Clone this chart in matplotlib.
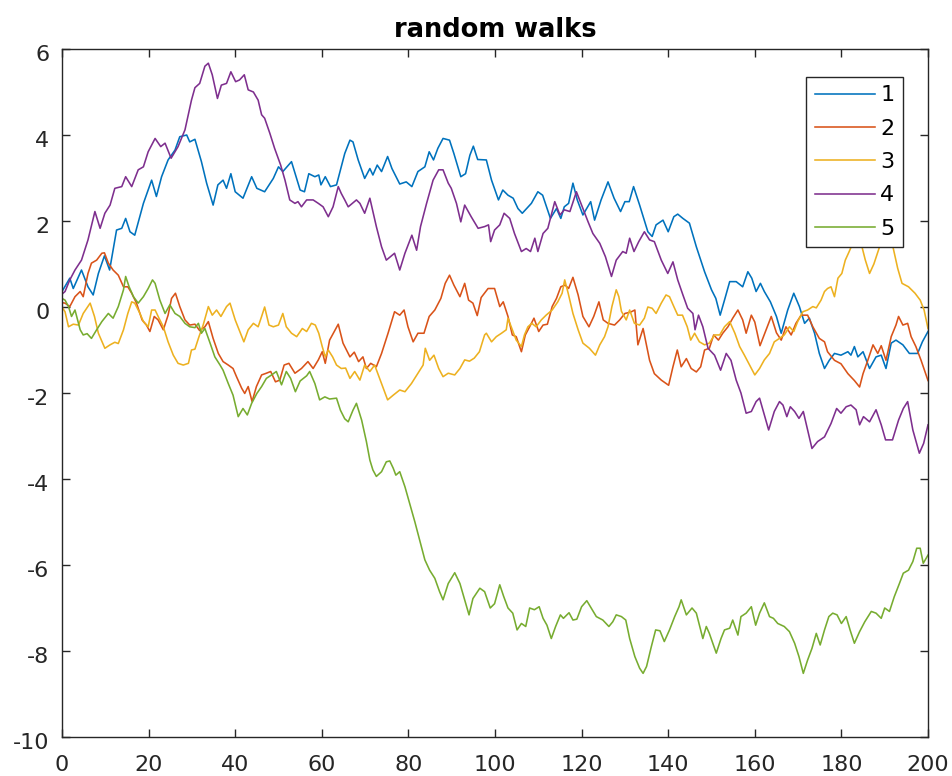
import matplotlib
matplotlib.use("Agg")
import matplotlib.pyplot as plt
from matplotlib.transforms import ScaledTranslation

plt.rcParams['font.family'] = ['DejaVu Sans']
plt.rcParams['axes.unicode_minus'] = False

# ---- data ----
x1 = [0,1.8,2.6,4.5,6,7.2,8.4,9.8,11,12.6,13.8,14.7,15.7,16.8,18.8,20.7,21.8,23,24.5,26.1,27.2,28.8,29.5,30.7,32.2,33.4,34.9,36,37.2,38,39,40,41.8,43.8,45,46.8,48.8,50,51,53,55,56,57,58.4,59.3,59.8,60.8,62,63.4,64.5,65.3,66.5,67.2,68.4,69.9,71.1,71.8,72.8,73.8,75.2,76.2,78,79.5,80.8,82.2,83.8,84.8,85.8,86.8,88,89.5,90.5,92.1,93.2,94.2,95,96,98,99.2,100.8,101.8,103,104.2,105.3,106.3,108.4,109.9,111,112.8,114.2,115.2,116,117,118,119,120.3,122.1,123,124.5,126.1,127.5,129,130,131,132,133.4,135.3,136.3,137.2,138.8,140,141.3,142.2,143.4,144.9,146.5,148.4,150,151,152,153,154.2,155.7,157.2,158.4,159.3,160.3,161.3,162.2,163.6,165,166.1,167.6,169,170.3,171.5,172.6,173.8,174.9,176.1,177.2,178.4,179.9,181.5,182.2,183,183.8,185,186.5,188,189.2,190.3,191.5,192.6,194.2,195.7,197.6,198.7,200]
y1 = [0.36,0.67,0.43,0.86,0.47,0.28,0.78,1.19,0.86,1.79,1.83,2.06,1.75,1.67,2.41,2.95,2.57,3.03,3.42,3.65,3.96,4.0,3.84,3.9,3.38,2.88,2.37,2.84,2.95,2.76,3.1,2.68,2.53,3.03,2.76,2.68,2.99,3.26,3.15,3.38,2.72,2.68,3.1,3.03,3.07,2.84,3.03,2.8,2.84,3.26,3.57,3.88,3.84,3.42,2.99,3.22,3.07,3.30,3.15,3.5,3.22,2.86,2.91,2.8,3.15,3.26,3.61,3.42,3.69,3.92,3.88,3.57,3.03,3.1,3.53,3.74,3.43,3.42,2.95,2.49,2.72,2.6,2.53,2.29,2.18,2.41,2.68,2.6,2.06,2.29,2.06,2.33,2.41,2.88,2.49,2.14,2.45,2.02,2.49,2.91,2.53,2.22,2.45,2.45,2.8,2.37,1.75,1.64,1.91,2.02,1.75,2.1,2.16,2.06,1.95,1.40,0.82,0.40,0.2,-0.19,0.16,0.59,0.59,0.47,0.82,0.67,0.36,0.55,0.36,0.12,-0.22,-0.61,-0.07,0.32,0.01,-0.38,-0.26,-0.61,-1.08,-1.43,-1.24,-1.08,-1.12,-1.04,-1.12,-0.92,-1.16,-1.04,-1.43,-1.16,-1.12,-1.43,-0.84,-0.77,-0.88,-1.08,-1.08,-0.81,-0.57]

x2 = [0,0.7,1.8,3,4.2,4.9,6,6.8,8,9.2,9.8,10.7,11.8,13,14.2,15.2,16.1,17.2,18.5,19.5,20.3,21.3,22.2,23.4,24.5,25.3,26.2,27.2,28.4,29.5,30.7,31.8,33,33.8,34.9,36.1,37.2,38.4,39.5,40.3,41.5,42.2,43,43.9,44.9,46.1,47.2,48.2,49.3,50.3,51.3,52.4,53.8,55.3,56.8,58,59.2,60.1,60.8,61.8,63,63.8,64.9,66.5,67.5,68.5,69.5,70.3,71.3,72.6,73.8,75.3,76.8,78,79,79.9,81.1,82.2,83.6,84.8,86.1,87.5,88.5,89.5,90.5,91.9,93,93.9,94.9,95.9,96.8,98.4,99.9,101.1,101.9,103,104,104.9,106.1,107,108,109,110.1,111.1,112.1,113.2,114.2,115.2,116.2,117,118,119.2,120.3,121.7,122.8,124,125,126.1,127.6,128.8,130,131.3,132.3,133,134.2,135.7,136.8,138.4,140.1,141.1,142.1,143,144.2,145.3,146.5,147.5,148.4,149.5,150.5,151.6,152.6,153.8,154.9,156.1,157.2,158,159.2,160,161.2,162.6,163.8,165,166.1,167.2,168.4,169.5,170.7,172.2,173.4,174.9,176.1,176.8,178.4,179.9,181.5,183,184.2,185,186.1,187.3,188.4,189.2,190.3,191.5,192.6,193.2,194.2,195.3,196.1,197.2,198.4,200]
y2 = [0.1,0.09,0.01,0.24,0.36,0.24,0.78,1.02,1.09,1.25,1.26,1.02,0.86,0.74,0.47,0.47,0.32,0.09,-0.3,-0.42,-0.57,-0.22,-0.3,-0.53,-0.19,0.2,0.32,0.01,-0.3,-0.42,-0.4,-0.55,-0.46,-0.34,-0.73,-1.08,-1.27,-1.35,-1.43,-1.62,-1.89,-2.01,-1.85,-2.2,-1.85,-1.58,-1.54,-1.5,-1.74,-1.7,-1.35,-1.31,-1.54,-1.43,-1.27,-1.43,-1.23,-1.04,-1.31,-0.77,-0.55,-0.4,-0.84,-1.16,-1.05,-1.27,-1.16,-1.43,-1.31,-1.39,-1.08,-0.61,-0.11,-0.19,-0.07,-0.46,-0.81,-0.61,-0.61,-0.22,-0.07,0.2,0.55,0.74,0.51,0.24,0.55,0.16,0.09,-0.2,0.22,0.43,0.43,0.01,0.12,-0.22,-0.65,-0.69,-1.04,-0.65,-0.46,-0.26,-0.57,-0.42,-0.4,0.01,0.2,0.47,0.51,0.43,0.69,0.28,-0.22,-0.46,-0.22,0.12,-0.3,-0.38,-0.42,-0.3,-0.15,-0.12,-0.07,-0.88,-0.5,-1.24,-1.55,-1.7,-1.82,-1.39,-1.0,-1.39,-1.2,-1.43,-1.51,-1.39,-1.0,-0.96,-0.65,-0.77,-0.61,-0.46,-0.26,-0.07,-0.3,-0.61,-0.19,-0.35,-0.9,-0.53,-0.22,-0.6,-0.77,-0.46,-0.65,-0.38,-0.19,-0.19,-0.46,-0.73,-0.81,-1.04,-1.24,-1.32,-1.55,-1.71,-1.86,-1.55,-1.24,-0.88,-1.08,-0.9,-1.24,-0.69,-0.42,-0.22,-0.42,-0.38,-0.69,-0.92,-1.24,-1.71]

x3 = [0,0.7,1.5,2.6,3.8,4.9,6.5,7.5,8.4,9.9,11.1,12.2,13,14.2,15.2,16.1,16.8,18,18.8,19.9,20.7,21.5,22.4,23.4,24.5,25.7,26.8,28,29.2,29.9,30.7,31.6,32.6,33.8,34.7,35.7,36.7,38,38.8,40,40.9,42,43,44.2,45.3,46.1,46.8,47.8,48.8,50,51,51.8,53,54.2,55.5,56.5,57.6,58.5,59.3,60.1,60.8,61.5,62.5,63.4,64.5,65.5,66.5,67.6,68.8,69.9,71.1,72.2,73.8,75.2,76.5,78,79.2,80.7,82.2,83.4,83.9,84.9,85.9,87,88,89.2,90.7,91.9,93,94.1,95.2,96.4,97.6,98,99.2,100.3,101.5,102.6,103,104,104.9,106.1,106.8,107.6,108.5,109.5,110.7,111.8,113.2,114.5,115.5,116.1,116.9,118,119.2,120.3,121.8,123.2,124.2,125.3,126.1,127,128,128.6,129.2,130.3,131.1,132.2,133.4,134.5,135.3,136.3,137.2,138.4,139.5,140.3,141.3,142.2,143.3,144.4,145.2,146.1,147.2,148.4,149.5,150.7,151.9,153,154.2,155.4,156.5,157.6,158.8,160,161.1,162.2,163.4,164.5,165.7,166.8,168,169,169.9,171.1,172.2,173.4,174.2,175.3,176.1,176.8,177.6,178.4,179.2,180.1,180.9,181.8,182.6,183.5,184.5,185.5,186.5,187.5,188.8,189.8,190.8,191.9,193,194,195.5,197,198.2,199.1,200]
y3 = [0.0,-0.11,-0.46,-0.4,-0.42,-0.15,0.09,-0.22,-0.61,-0.96,-0.88,-0.82,-0.85,-0.53,-0.15,0.12,0.09,-0.15,-0.34,-0.46,-0.07,-0.07,-0.26,-0.46,-0.81,-1.12,-1.31,-1.35,-1.31,-1.0,-0.98,-0.7,-0.42,0.01,-0.19,-0.07,-0.22,0.01,0.09,-0.3,-0.53,-0.81,-0.53,-0.38,-0.46,-0.22,0.0,-0.42,-0.46,-0.42,-0.15,-0.46,-0.61,-0.69,-0.5,-0.57,-0.38,-0.42,-0.61,-0.92,-1.16,-1.0,-1.16,-1.35,-1.43,-1.42,-1.66,-1.5,-1.7,-1.35,-1.5,-1.35,-1.78,-2.16,-2.05,-1.93,-1.97,-1.78,-1.54,-1.35,-0.96,-1.24,-1.12,-1.43,-1.62,-1.54,-1.58,-1.43,-1.23,-1.26,-1.19,-1.04,-0.65,-0.61,-0.81,-0.69,-0.61,-0.53,-0.26,-0.53,-0.77,-0.92,-0.65,-0.46,-0.38,-0.46,-0.3,-0.19,-0.07,0.12,0.32,0.63,0.32,-0.15,-0.53,-0.84,-0.96,-1.12,-0.88,-0.69,-0.46,0.01,0.4,0.24,-0.1,-0.3,-0.07,-0.38,-0.42,-0.26,0.0,-0.03,-0.15,0.09,0.28,0.24,0.01,-0.19,-0.19,-0.46,-0.77,-0.61,-0.81,-0.88,-0.84,-0.65,-0.65,-0.46,-0.34,-0.61,-0.92,-1.12,-1.35,-1.58,-1.43,-1.23,-1.08,-0.81,-0.73,-0.65,-0.46,-0.57,-0.34,-0.11,-0.07,0.01,-0.02,0.16,0.36,0.43,0.47,0.24,0.67,0.78,1.09,1.29,1.48,1.65,1.5,1.1,0.78,1.0,1.4,1.7,1.6,1.4,0.9,0.55,0.47,0.32,0.16,-0.07,-0.5]

x4 = [0,0.7,1.8,3,4.5,6,7.6,8.8,9.9,11.1,12.2,13.8,14.7,16.1,17.6,18.8,19.9,21.5,22.8,23.8,25.2,26.8,28.4,29.9,30.7,31.8,33,33.8,34.7,35.9,36.8,38,39,40.1,41,42.1,43,44.2,45.3,46.1,46.8,48,49.1,50.5,51.5,52.6,53.8,54.5,55.3,56.5,58,59.2,60.3,61.5,62.6,63.8,64.5,65.3,66.1,68,68.8,69.9,71.1,72.6,73.8,74.9,76.8,78,79.2,80.8,81.9,82.8,84.2,85.7,87,88,89.2,89.9,91.1,92.1,93,94.5,96.1,97.6,98.5,99,99.9,101.1,102.1,103.4,104.5,106.1,107.2,108.2,109.2,109.9,111.1,112.2,113.8,115,116,117.3,118.8,120,121.5,122.6,124.2,125.5,126.9,128,129.5,130.3,131.1,132.1,133.2,134.5,135.7,136.8,138.4,139.9,141.1,142.2,143.4,144.5,145.7,146.2,147,148,149.2,150.7,152.1,153.4,154.5,155.7,156.8,158,159.2,160.3,161.1,162.2,163.2,164.5,165.7,166.5,167.4,168.2,169.2,170.2,171.2,172.2,173.2,174.5,176.1,177.6,178.9,179.9,181.1,182.2,183.4,184.2,185.1,186.5,188,189.2,190.2,191.8,193.2,194.3,195.3,196.5,198,199,200]
y4 = [0.3,0.36,0.63,0.86,1.09,1.56,2.22,1.83,2.18,2.37,2.76,2.8,3.03,2.8,3.19,3.26,3.61,3.92,3.73,3.81,3.46,3.73,4.12,4.81,5.1,5.2,5.6,5.67,5.4,4.85,5.16,5.2,5.47,5.24,5.28,5.4,5.05,5.0,4.81,4.47,4.39,4.04,3.69,3.3,2.95,2.49,2.41,2.45,2.33,2.49,2.49,2.41,2.33,2.1,2.33,2.8,2.64,2.49,2.33,2.49,2.41,2.18,2.53,1.87,1.4,1.09,1.25,0.86,1.25,1.67,1.32,1.87,2.41,2.95,3.19,3.19,2.88,2.76,2.41,1.98,2.37,2.1,1.83,1.87,1.91,1.52,1.79,1.91,2.18,2.06,1.71,1.29,1.36,1.29,1.6,1.29,1.71,1.83,2.45,2.14,2.26,2.22,2.68,2.37,1.98,1.71,1.48,1.17,0.71,1.09,1.29,1.25,1.6,1.29,1.52,1.75,1.56,1.52,1.09,0.78,1.05,0.63,0.28,-0.03,-0.15,-0.53,-0.19,-0.46,-0.96,-1.12,-1.47,-1.08,-1.24,-1.7,-2.0,-2.47,-2.43,-2.2,-2.12,-2.51,-2.86,-2.43,-2.2,-2.28,-2.55,-2.32,-2.43,-2.59,-2.43,-2.86,-3.29,-3.13,-3.02,-2.71,-2.36,-2.47,-2.32,-2.28,-2.39,-2.74,-2.55,-2.67,-2.39,-2.74,-3.09,-3.09,-2.63,-2.36,-2.2,-2.86,-3.4,-3.17,-2.74]

x5 = [0,0.7,1.5,2.2,3,4.2,4.9,5.8,6.8,8,9.2,10.7,11.8,13,14.2,14.7,15.5,16.5,17.6,18.8,19.9,20.9,21.5,22.6,23.8,24.9,26.1,27.2,28.4,29.5,30.7,31.5,32.2,33,34.2,35.3,36.5,37.2,38.4,39.5,40.7,41.8,42.8,43.8,45,46.1,47.2,48.4,49.5,50.7,51.8,52.8,53.9,55,56.5,57.2,58.4,59.5,60.7,61.8,63.4,64.3,65.3,66.1,67.2,68,69.2,70.3,71.1,71.8,72.6,73.8,74.9,75.7,76.5,77.1,78,79.2,80.3,81.5,82.6,83.8,84.9,86.1,87.2,88,89.2,90.7,91.9,93,94,94.9,96.5,97.6,98.9,99.9,101.1,102,103,104.1,105.1,106.1,107.1,108,109.1,110.2,111.1,112,113,114,115.1,115.8,117.1,118,118.9,120,121.2,122.2,123.4,124.9,126.3,127.2,128,129.2,130.2,131.1,132.3,133.4,134.2,135,136.1,137.1,138.1,139.1,140.3,141.5,142.5,143,144.2,145.5,146.5,147.2,148,148.8,149.5,151.1,152.2,153,154.2,154.9,156.1,156.8,158,159.2,160.2,161.1,162.2,163.4,164.3,165.3,166.8,168,169.2,170.2,171.2,172.2,173.2,174.2,175.1,176.1,177.1,178,179,180,181.1,182,183,184.2,185.4,186.9,188,189.2,190,191.1,192.2,193.4,194.3,195.5,196.5,197.4,198.2,198.9,200]
y5 = [0.2,0.16,0.01,-0.22,-0.07,-0.53,-0.65,-0.62,-0.73,-0.53,-0.34,-0.15,-0.26,0.01,0.4,0.71,0.47,0.24,0.09,0.24,0.43,0.63,0.55,0.16,-0.15,0.05,-0.15,-0.22,-0.38,-0.46,-0.48,-0.38,-0.61,-0.5,-0.84,-1.16,-1.35,-1.47,-1.78,-2.05,-2.55,-2.36,-2.51,-2.24,-2.01,-1.85,-1.66,-1.58,-1.5,-1.81,-1.5,-1.66,-1.97,-1.72,-1.6,-1.5,-1.78,-2.16,-2.09,-2.14,-2.12,-2.4,-2.6,-2.67,-2.4,-2.24,-2.63,-3.13,-3.56,-3.79,-3.94,-3.83,-3.6,-3.58,-3.75,-3.91,-3.83,-4.18,-4.57,-5.0,-5.42,-5.88,-6.12,-6.31,-6.62,-6.81,-6.43,-6.18,-6.43,-6.81,-7.16,-6.78,-6.54,-6.62,-7.0,-6.9,-6.46,-6.73,-7.0,-7.12,-7.51,-7.36,-7.43,-7.0,-7.04,-6.97,-7.24,-7.4,-7.71,-7.43,-7.16,-7.24,-7.11,-7.28,-7.26,-6.97,-6.83,-7.0,-7.2,-7.28,-7.43,-7.32,-7.16,-7.2,-7.28,-7.71,-8.13,-8.4,-8.52,-8.36,-7.9,-7.51,-7.53,-7.78,-7.51,-7.2,-6.97,-6.81,-7.16,-7.0,-7.12,-7.4,-7.71,-7.43,-7.59,-8.05,-7.71,-7.51,-7.47,-7.28,-7.63,-7.2,-7.12,-6.97,-7.4,-7.12,-6.88,-7.2,-7.24,-7.36,-7.43,-7.55,-7.82,-8.13,-8.52,-8.21,-7.94,-7.59,-7.86,-7.51,-7.2,-7.12,-7.16,-7.36,-7.2,-7.51,-7.82,-7.55,-7.32,-7.08,-7.12,-7.24,-7.0,-7.08,-6.74,-6.43,-6.19,-6.12,-5.92,-5.61,-5.61,-5.96,-5.77]

series_x = [x1, x2, x3, x4, x5]
series_y = [y1, y2, y3, y4, y5]
labels = ['1', '2', '3', '4', '5']
colors = ['#0072BD', '#D95319', '#EDB120', '#7E2F8E', '#77AC30']
title = 'random walks'
xticks = list(range(0, 201, 20))
yticks = list(range(-10, 7, 2))

# ---- figure ----
W, H = 952, 776
fig = plt.figure(figsize=(W / 100, H / 100), dpi=100)
ax = fig.add_axes([62 / W, 1 - 737 / H, (928 - 62) / W, (737 - 49) / H])

for xs, ys, lab, c in zip(series_x, series_y, labels, colors):
    ax.plot(xs, ys, color=c, lw=1.15, label=lab)

ax.set_xlim(0, 200)
ax.set_ylim(-10, 6)
ax.set_xticks(xticks)
ax.set_yticks(yticks)
axc = '#262626'
for s in ax.spines.values():
    s.set_color(axc)
    s.set_linewidth(1.0)
ax.tick_params(direction='in', length=5.5, width=1.0, colors=axc,
               top=True, right=True, labelsize=16)
ax.tick_params(axis='x', pad=13)
ax.tick_params(axis='y', pad=9)
ax.set_title(title, fontsize=18.5, fontweight='bold', color='black', pad=8.5)

# y tick labels sit a little below their ticks in the reference
off = ScaledTranslation(0, -4 / 100, fig.dpi_scale_trans)
for lab in ax.get_yticklabels():
    lab.set_transform(lab.get_transform() + off)

leg = ax.legend(loc='upper right', bbox_to_anchor=((903 - 62) / 866, (737 - 77) / 688),
                fontsize=16, frameon=True, fancybox=False, framealpha=1,
                edgecolor=axc, handlelength=2.7, handletextpad=0.25,
                labelspacing=0.6, borderpad=0.38, borderaxespad=0)
leg.get_frame().set_linewidth(1.0)

fig.savefig('out.png', dpi=100)
